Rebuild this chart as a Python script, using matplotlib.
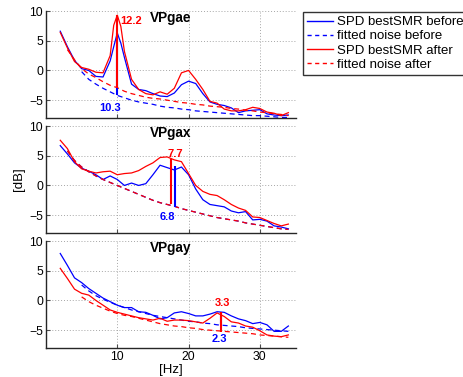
import numpy as np
import matplotlib
matplotlib.use("Agg")
import matplotlib.pyplot as plt
from matplotlib.lines import Line2D

nan = np.nan

# ---------------- data ----------------
titles = ["VPgae", "VPgax", "VPgay"]

freq_gae = [2, 3, 4, 5, 6, 7, 8, 9, 9.5, 10, 10.5, 11, 12, 13, 14, 15, 16, 17, 18, 19,
            20, 21, 22, 23, 24, 25, 26, 27, 28, 29, 30, 31, 32, 33, 34]
spd_before_gae = [6.6, 4.0, 1.7, 0.3, 0.0, -1.0, -1.1, 1.6, 4.0, 6.3, 4.6, 2.2, -2.3, -3.2, -3.4,
                  -3.9, -4.3, -4.4, -3.8, -2.4, -1.8, -2.2, -3.9, -5.3, -5.7, -5.9, -6.3, -7.1,
                  -6.8, -6.7, -6.6, -7.3, -7.5, -7.6, -7.5]
noise_before_gae = [nan, nan, nan, -0.2, -1.5, -2.3, -3.0, -3.6, -3.9, -4.2, -4.4, -4.6, -5.0,
                    -5.3, -5.5, -5.7, -6.0, -6.2, -6.3, -6.5, -6.6, -6.8, -6.9, -7.0, -7.1, -7.2,
                    -7.3, -7.4, -7.5, -7.6, -7.6, -7.7, -7.8, -7.9, -7.9]
spd_after_gae = [6.4, 3.8, 1.5, 0.5, 0.2, -0.3, -0.4, 2.5, 7.6, 9.3, 7.4, 3.2, -1.5, -3.2, -3.9,
                 -4.1, -3.6, -4.0, -3.0, -0.4, 0.0, -1.5, -3.2, -5.2, -5.5, -6.5, -6.8, -6.8,
                 -6.6, -6.2, -6.4, -7.0, -7.2, -7.6, -7.1]
noise_after_gae = [nan, 3.5, 1.8, 0.3, -0.6, -1.2, -1.9, -2.5, -2.7, -2.9, -3.2, -3.5, -3.9,
                   -4.2, -4.5, -4.7, -4.8, -5.0, -5.2, -5.4, -5.5, -5.7, -5.8, -6.0, -6.1, -6.2,
                   -6.4, -6.5, -6.7, -6.8, -7.0, -7.1, -7.3, -7.4, -7.6]

freq_gax = [2, 3, 4, 5, 6, 7, 8, 9, 10, 11, 12, 13, 14, 15, 16, 17, 18, 19, 20, 21, 22, 23,
            24, 25, 26, 27, 28, 29, 30, 31, 32, 33, 34]
spd_before_gax = [6.7, 5.3, 3.8, 2.9, 2.4, 1.8, 1.0, 1.6, 1.0, 0.0, 0.4, 0.0, 0.3, 1.8, 3.4,
                  3.0, 2.6, 3.1, 1.8, -0.6, -2.4, -3.2, -3.4, -3.6, -4.3, -4.6, -4.4, -5.8,
                  -5.7, -6.0, -6.8, -7.0, -7.3]
noise_before_gax = [nan, 5.8, 4.2, 3.1, 2.3, 1.6, 1.0, 0.5, 0.0, -0.5, -1.0, -1.5, -2.0, -2.5,
                    -2.9, -3.2, -3.5, -3.9, -4.2, -4.5, -4.8, -5.1, -5.4, -5.6, -5.8, -6.0,
                    -6.3, -6.5, -6.7, -6.9, -7.1, -7.3, -7.4]
spd_after_gax = [7.6, 6.2, 4.0, 2.8, 2.4, 2.1, 2.3, 2.4, 1.8, 2.0, 2.1, 2.5, 3.2, 3.8, 4.7,
                 4.8, 4.3, 4.0, 2.0, 0.0, -1.0, -1.5, -1.7, -2.4, -3.2, -3.8, -4.2, -5.3,
                 -5.4, -5.9, -6.4, -6.8, -6.5]
noise_after_gax = [nan, 5.8, 4.2, 3.1, 2.3, 1.6, 1.0, 0.5, 0.0, -0.5, -1.0, -1.5, -2.0, -2.5,
                   -2.9, -3.2, -3.5, -3.9, -4.2, -4.5, -4.8, -5.1, -5.4, -5.6, -5.8, -6.0,
                   -6.3, -6.5, -6.7, -6.9, -7.1, -7.3, -7.4]

freq_gay = [2, 3, 4, 5, 6, 7, 8, 9, 10, 11, 12, 13, 14, 15, 16, 17, 18, 19, 20, 21, 22, 23,
            24, 25, 26, 27, 28, 29, 30, 31, 32, 33, 34]
spd_before_gay = [7.9, 5.9, 3.8, 3.0, 2.0, 1.2, 0.4, -0.2, -0.8, -1.2, -1.2, -1.9, -2.0, -2.5,
                  -3.1, -2.9, -2.1, -1.9, -2.2, -2.6, -2.6, -2.3, -1.9, -2.0, -2.6, -3.1,
                  -3.4, -3.9, -3.7, -4.1, -5.2, -5.2, -4.3]
noise_before_gay = [nan, nan, nan, 2.6, 1.6, 0.8, 0.2, -0.3, -0.8, -1.2, -1.6, -1.9, -2.2,
                    -2.5, -2.7, -2.9, -3.1, -3.3, -3.5, -3.6, -3.8, -3.9, -4.1, -4.2, -4.3,
                    -4.4, -4.6, -4.7, -4.8, -4.9, -5.0, -5.1, -5.2]
spd_after_gay = [5.4, 3.7, 1.9, 1.2, 0.9, 0.0, -0.8, -1.6, -2.0, -2.3, -2.6, -2.9, -3.1, -3.3,
                 -3.0, -3.5, -3.3, -3.3, -3.4, -3.6, -3.8, -3.0, -2.1, -2.7, -3.6, -3.8,
                 -4.3, -4.5, -5.1, -5.8, -6.0, -6.1, -5.8]
noise_after_gay = [nan, nan, nan, 0.6, -0.2, -0.8, -1.3, -1.8, -2.2, -2.5, -2.7, -3.0, -3.3,
                   -3.6, -3.9, -4.1, -4.3, -4.4, -4.6, -4.7, -4.9, -5.0, -5.1, -5.2, -5.3,
                   -5.4, -5.5, -5.6, -5.8, -5.9, -6.0, -6.1, -6.2]

# peak markers (before / after) per panel
peak_freq_before = [10.0, 18.1, 24.5]
peak_lo_before = [-4.2, -3.7, -4.2]
peak_hi_before = [6.3, 3.2, -1.9]
peak_text_before = ["10.3", "6.8", "2.3"]
peak_freq_after = [10.0, 17.6, 24.5]
peak_lo_after = [-2.9, -3.2, -5.3]
peak_hi_after = [9.3, 4.5, -2.0]
peak_text_after = ["12.2", "7.7", "3.3"]

legend_labels = ["SPD bestSMR before", "fitted noise before",
                 "SPD bestSMR after", "fitted noise after"]
x_ticks = [10, 20, 30]
y_ticks = [-5, 0, 5, 10]

panels = [
    (freq_gae, spd_before_gae, noise_before_gae, spd_after_gae, noise_after_gae),
    (freq_gax, spd_before_gax, noise_before_gax, spd_after_gax, noise_after_gax),
    (freq_gay, spd_before_gay, noise_before_gay, spd_after_gay, noise_after_gay),
]

# ---------------- layout / style ----------------
plt.rcParams['font.family'] = ['Liberation Sans', 'DejaVu Sans']
BLUE = (0, 0, 1)
RED = (1, 0, 0)
W, H = 463, 377
fig = plt.figure(figsize=(W / 100, H / 100), dpi=100)

left_px, right_px = 46, 295.5
tops_px = [11, 126, 241]
height_px = 107
# text positions (x, y) in data coords for before / after labels
txt_before_pos = [(9.0, -6.3), (17.0, -5.3), (24.3, -6.5)]
txt_after_pos = [(12.0, 8.4), (18.1, 5.3), (24.8, -0.4)]

axes = []
for i, (fr, sb, nb, sa, na) in enumerate(panels):
    ax = fig.add_axes([left_px / W, 1 - (tops_px[i] + height_px) / H,
                       (right_px - left_px) / W, height_px / H])
    axes.append(ax)
    ax.set_xlim(0, 35)
    ax.set_ylim(-8, 10)
    ax.set_xticks(x_ticks)
    ax.set_yticks(y_ticks)
    ax.grid(True, linestyle=(0, (1, 2)), color='0.65', linewidth=0.7)
    ax.set_axisbelow(True)
    for s in ['top', 'right']:
        ax.spines[s].set_visible(False)
    for s in ['left', 'bottom']:
        ax.spines[s].set_linewidth(1.0)
        ax.spines[s].set_color('0.15')
    ax.tick_params(direction='in', length=3, width=0.8, labelsize=8.8, pad=2,
                   color='0.3')
    if i < 2:
        ax.tick_params(labelbottom=False)

    ax.plot(fr, sb, color=BLUE, lw=0.9)
    ax.plot(fr, nb, color=BLUE, lw=0.9, ls=(0, (4, 3)))
    ax.plot(fr, sa, color=RED, lw=0.9)
    ax.plot(fr, na, color=RED, lw=0.9, ls=(0, (4, 3)))

    ax.vlines(peak_freq_before[i], peak_lo_before[i], peak_hi_before[i],
              color=BLUE, lw=1.5)
    ax.vlines(peak_freq_after[i], peak_lo_after[i], peak_hi_after[i],
              color=RED, lw=1.5)
    ax.text(*txt_before_pos[i], peak_text_before[i], color=BLUE, fontsize=8,
            fontweight='bold', ha='center', va='center')
    ax.text(*txt_after_pos[i], peak_text_after[i], color=RED, fontsize=8,
            fontweight='bold', ha='center', va='center')
    ax.text(0.5, 0.93, titles[i], transform=ax.transAxes, fontsize=9.8,
            fontweight='bold', ha='center', va='center')

axes[1].set_ylabel('[dB]', fontsize=9.5, labelpad=3)
axes[2].set_xlabel('[Hz]', fontsize=9.5, labelpad=1)

handles = [Line2D([], [], color=BLUE, lw=1.0),
           Line2D([], [], color=BLUE, lw=1.0, ls=(0, (3, 2.5))),
           Line2D([], [], color=RED, lw=1.0),
           Line2D([], [], color=RED, lw=1.0, ls=(0, (3, 2.5)))]
leg = fig.legend(handles, legend_labels, loc='upper left',
                 bbox_to_anchor=(303 / W, 1 - 12 / H), fontsize=9.5,
                 frameon=True, fancybox=False, borderpad=0.3, labelspacing=0.15,
                 handlelength=2.0, handletextpad=0.3, borderaxespad=0)
leg.get_frame().set_edgecolor('k')
leg.get_frame().set_linewidth(1.0)

fig.savefig('out.png', dpi=100)
